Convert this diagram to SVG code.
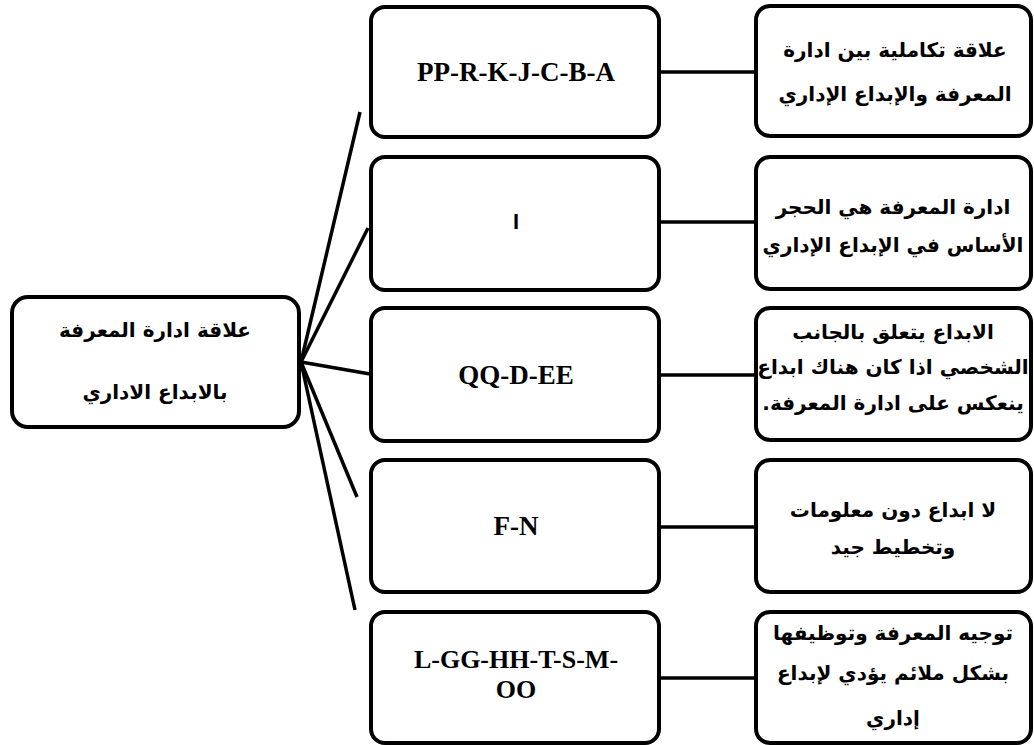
<svg xmlns="http://www.w3.org/2000/svg" width="1034" height="745" viewBox="0 0 1034 745">
  <style>
    .box { fill: #ffffff; stroke: #000000; stroke-width: 4; }
    .link { stroke: #000000; stroke-width: 3.5; fill: none; }
    .ar { font-family: "DejaVu Sans", sans-serif; font-weight: bold; font-size: 20px; text-anchor: middle; fill: #000; direction: rtl; }
    .code { font-family: "Liberation Serif", serif; font-weight: bold; font-size: 27px; text-anchor: middle; fill: #000; }
    .code2 { font-size: 26px; }
    .plain { font-family: "Liberation Sans", sans-serif; font-weight: bold; font-size: 22px; text-anchor: middle; fill: #000; }
  </style>
  <rect width="1034" height="745" fill="#ffffff"/>

  <g id="connectors">
    <line class="link" x1="301" y1="362" x2="360" y2="112"/>
    <line class="link" x1="301" y1="362" x2="368" y2="228"/>
    <line class="link" x1="301" y1="362" x2="370" y2="374"/>
    <line class="link" x1="301" y1="362" x2="357" y2="497"/>
    <line class="link" x1="301" y1="362" x2="355" y2="610"/>
    <line class="link" x1="660" y1="72" x2="756" y2="72"/>
    <line class="link" x1="660" y1="222" x2="756" y2="222"/>
    <line class="link" x1="660" y1="375" x2="756" y2="375"/>
    <line class="link" x1="660" y1="527" x2="756" y2="527"/>
    <line class="link" x1="660" y1="678" x2="756" y2="678"/>
  </g>

  <g id="root">
    <rect class="box" x="12" y="297" width="287" height="130" rx="16"/>
    <text class="ar" x="155" y="337">علاقة ادارة المعرفة</text>
    <text class="ar" x="155" y="399">بالابداع الاداري</text>
  </g>

  <g id="codes-1">
    <rect class="box" x="371" y="7" width="288" height="130" rx="14"/>
    <text class="code" x="516" y="81">PP-R-K-J-C-B-A</text>
  </g>
  <g id="codes-2">
    <rect class="box" x="371" y="157" width="288" height="133" rx="14"/>
    <text class="plain" x="516" y="229">I</text>
  </g>
  <g id="codes-3">
    <rect class="box" x="371" y="308" width="288" height="133" rx="14"/>
    <text class="code" x="516" y="384">QQ-D-EE</text>
  </g>
  <g id="codes-4">
    <rect class="box" x="371" y="460" width="288" height="132" rx="14"/>
    <text class="code" x="516" y="535">F-N</text>
  </g>
  <g id="codes-5">
    <rect class="box" x="371" y="612" width="288" height="131" rx="14"/>
    <text class="code code2" x="516" y="668">L-GG-HH-T-S-M-</text>
    <text class="code code2" x="516" y="698">OO</text>
  </g>

  <g id="finding-1">
    <rect class="box" x="756" y="6" width="275" height="130" rx="14"/>
    <text class="ar" x="895" y="57">علاقة تكاملية بين ادارة</text>
    <text class="ar" x="895" y="101">المعرفة والإبداع الإداري</text>
  </g>
  <g id="finding-2">
    <rect class="box" x="756" y="157" width="275" height="132" rx="14"/>
    <text class="ar" x="893" y="214">ادارة المعرفة هي الحجر</text>
    <text class="ar" x="893" y="252">الأساس في الإبداع الإداري</text>
  </g>
  <g id="finding-3">
    <rect class="box" x="756" y="308" width="275" height="132" rx="14"/>
    <text class="ar" x="893" y="339">الابداع يتعلق بالجانب</text>
    <text class="ar" x="893" y="374">الشخصي اذا كان هناك ابداع</text>
    <text class="ar" x="893" y="410">ينعكس على ادارة المعرفة.</text>
  </g>
  <g id="finding-4">
    <rect class="box" x="756" y="460" width="275" height="132" rx="14"/>
    <text class="ar" x="893" y="517">لا ابداع دون معلومات</text>
    <text class="ar" x="893" y="554">وتخطيط جيد</text>
  </g>
  <g id="finding-5">
    <rect class="box" x="756" y="612" width="275" height="131" rx="14"/>
    <text class="ar" x="893" y="640">توجيه المعرفة وتوظيفها</text>
    <text class="ar" x="893" y="680">بشكل ملائم يؤدي لإبداع</text>
    <text class="ar" x="893" y="725">إداري</text>
  </g>
</svg>
